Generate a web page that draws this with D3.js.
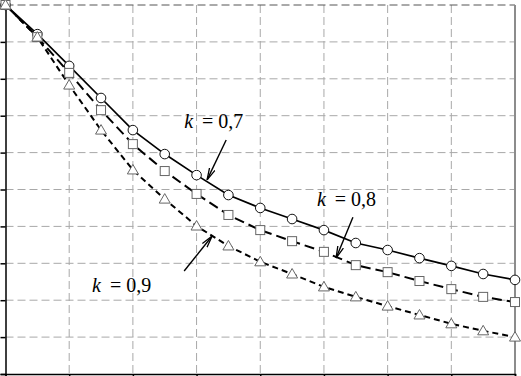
<!DOCTYPE html>
<html>
<head>
<meta charset="utf-8">
<script src="https://cdn.jsdelivr.net/npm/d3@7"></script>
<style>
  body { margin: 0; background: #fff; }
  .grid line { stroke: #a8a8a8; stroke-width: 1; stroke-dasharray: 8,4; }
  .label { font-family: "Liberation Serif", "Times New Roman", serif; font-size: 20px; fill: #000; }
</style>
</head>
<body>
<div id="chart"></div>
<script>
// --- Data (x index 0..16, relative value) ---
const xs = d3.range(0, 17);
const k07 = [1.000, 0.921, 0.835, 0.748, 0.661, 0.596, 0.539, 0.485, 0.450, 0.420, 0.390, 0.355, 0.336, 0.314, 0.293, 0.271, 0.255];
const k08 = [1.000, 0.913, 0.816, 0.715, 0.623, 0.550, 0.488, 0.431, 0.390, 0.360, 0.331, 0.295, 0.276, 0.252, 0.230, 0.209, 0.195];
const k09 = [1.000, 0.913, 0.783, 0.661, 0.553, 0.474, 0.401, 0.347, 0.304, 0.271, 0.236, 0.209, 0.184, 0.160, 0.136, 0.117, 0.100];
const xTicks = d3.range(0, 17, 2);
const yTicks = d3.range(0, 11).map(d => d / 10);

// annotation positions in data units: text anchor, arrow start, arrow tip
const labels = [
    { k: "0,7", tx: 5.61, ty: 0.667, x1: 6.93, y1: 0.634, x2: 6.33, y2: 0.526 },
    { k: "0,8", tx: 9.78, ty: 0.455, x1: 10.91, y1: 0.425, x2: 10.38, y2: 0.314 },
    { k: "0,9", tx: 2.72, ty: 0.222, x1: 5.61, y1: 0.279, x2: 6.49, y2: 0.374 }
];

const width = 521, height = 376;
const mLeft = 5.5, mRight = 515, mTop = 5, mBottom = 374;

const svg = d3.select("#chart").append("svg")
    .attr("width", width)
    .attr("height", height);

const x = d3.scaleLinear().domain([0, 16]).range([mLeft, mRight]);
const y = d3.scaleLinear().domain([0, 1]).range([mBottom, mTop]);

// --- Grid ---
const grid = svg.append("g").attr("class", "grid");
grid.selectAll(".v").data(xTicks.slice(1, -1)).join("line")
    .attr("x1", d => x(d)).attr("x2", d => x(d))
    .attr("y1", mTop).attr("y2", mBottom);
grid.selectAll(".h").data(yTicks.slice(1)).join("line")
    .attr("x1", mLeft).attr("x2", mRight)
    .attr("y1", d => y(d)).attr("y2", d => y(d))
    .style("stroke", d => d === 1 ? "#555" : null);

// right border
svg.append("line")
    .attr("x1", x(16)).attr("x2", x(16))
    .attr("y1", mTop).attr("y2", mBottom)
    .attr("stroke", "#8c8c8c").attr("stroke-width", 2);

// --- Axes ---
svg.append("g")
    .attr("transform", `translate(${mLeft},0)`)
    .call(d3.axisLeft(y).tickValues(yTicks).tickSize(5).tickFormat(""))
    .call(g => g.selectAll("path, line").attr("stroke", "#000").attr("stroke-width", 1.5));
svg.append("g")
    .attr("transform", `translate(0,${mBottom})`)
    .call(d3.axisBottom(x).tickValues(xTicks).tickSize(5).tickFormat(""))
    .call(g => g.selectAll("path, line").attr("stroke", "#000").attr("stroke-width", 1.5));

// --- Series ---
const series = [
    { values: k07, dash: null, width: 1.7, marker: "circle" },
    { values: k08, dash: "10,5", width: 2, marker: "square" },
    { values: k09, dash: "6,4", width: 2, marker: "triangle" }
];

const line = d3.line().x((d, i) => x(xs[i])).y(d => y(d));

series.forEach(s => {
    svg.append("path")
        .datum(s.values)
        .attr("fill", "none")
        .attr("stroke", "#000")
        .attr("stroke-width", s.width)
        .attr("stroke-dasharray", s.dash)
        .attr("d", line);
});

series.forEach(s => {
    const g = svg.append("g");
    const pts = s.values.map((v, i) => [x(xs[i]), y(v)]);
    if (s.marker === "circle") {
        g.selectAll("circle").data(pts).join("circle")
            .attr("cx", d => d[0]).attr("cy", d => d[1]).attr("r", 4.8)
            .attr("fill", "#fff").attr("stroke", "#111").attr("stroke-width", 1);
    } else if (s.marker === "square") {
        g.selectAll("rect").data(pts).join("rect")
            .attr("x", d => d[0] - 4.5).attr("y", d => d[1] - 4.5)
            .attr("width", 9).attr("height", 9)
            .attr("fill", "#fff").attr("stroke", "#666").attr("stroke-width", 1);
    } else {
        g.selectAll("path").data(pts).join("path")
            .attr("d", d => `M${d[0]},${d[1] - 5.5}L${d[0] + 5.5},${d[1] + 4}L${d[0] - 5.5},${d[1] + 4}Z`)
            .attr("fill", "#fff").attr("stroke", "#666").attr("stroke-width", 1);
    }
});

// --- Annotations ---
svg.append("defs").append("marker")
    .attr("id", "arrow")
    .attr("viewBox", "0 0 12 8")
    .attr("refX", 12).attr("refY", 4)
    .attr("markerWidth", 12).attr("markerHeight", 8)
    .attr("markerUnits", "userSpaceOnUse")
    .attr("orient", "auto")
    .append("path")
    .attr("d", "M0,1L12,4L0,7")
    .attr("fill", "none").attr("stroke", "#000").attr("stroke-width", 1.3);

labels.forEach(l => {
    const t = svg.append("text").attr("class", "label")
        .attr("x", x(l.tx)).attr("y", y(l.ty));
    t.append("tspan").style("font-style", "italic").text("k");
    t.append("tspan").attr("dx", 4).text(" = " + l.k);

    svg.append("line")
        .attr("x1", x(l.x1)).attr("y1", y(l.y1))
        .attr("x2", x(l.x2)).attr("y2", y(l.y2))
        .attr("stroke", "#000").attr("stroke-width", 1.4)
        .attr("marker-end", "url(#arrow)");
});
</script>
</body>
</html>
